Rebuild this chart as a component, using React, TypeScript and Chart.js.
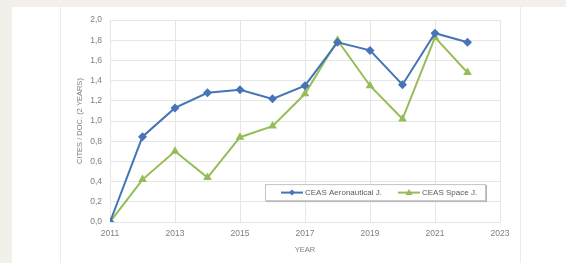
import React, { useEffect, useRef } from "react";
import { Chart, registerables } from "chart.js";

Chart.register(...registerables);

const years = [2011, 2012, 2013, 2014, 2015, 2016, 2017, 2018, 2019, 2020, 2021, 2022];
const aeronautical = [0.0, 0.845, 1.13, 1.28, 1.31, 1.22, 1.35, 1.78, 1.7, 1.36, 1.87, 1.78];
const space = [0.0, 0.42, 0.7, 0.44, 0.84, 0.95, 1.27, 1.8, 1.35, 1.02, 1.83, 1.48];
const seriesNames = ["CEAS Aeronautical J.", "CEAS Space J."];
const xTitle = "YEAR";
const yTitle = "CITES / DOC. (2 YEARS)";

const BLUE = "#4674b6";
const GREEN = "#95bd57";
const FONT = "'Liberation Sans', Arial, sans-serif";

const legendPlugin = {
  id: "insideLegend",
  afterDraw(chart: any) {
    const { ctx, chartArea } = chart;
    const bx = chartArea.left + 155;
    const by = chartArea.top + 164;
    const bw = 221;
    const bh = 17;
    ctx.save();
    ctx.fillStyle = "#b4b4b4";
    ctx.fillRect(bx + 1, by + 1, bw, bh);
    ctx.fillStyle = "#ffffff";
    ctx.fillRect(bx, by, bw, bh);
    ctx.strokeStyle = "#c4c4c4";
    ctx.lineWidth = 1;
    ctx.strokeRect(bx + 0.5, by + 0.5, bw - 1, bh - 1);
    const cy = by + bh / 2;
    const items = [
      { x: bx + 16, ds: chart.data.datasets[0] },
      { x: bx + 133, ds: chart.data.datasets[1] },
    ];
    ctx.font = "8px " + FONT;
    ctx.textBaseline = "middle";
    ctx.textAlign = "left";
    for (const it of items) {
      const ds = it.ds;
      ctx.strokeStyle = ds.borderColor;
      ctx.lineWidth = 2;
      ctx.beginPath();
      ctx.moveTo(it.x, cy);
      ctx.lineTo(it.x + 22, cy);
      ctx.stroke();
      ctx.fillStyle = ds.borderColor;
      const mx = it.x + 11;
      ctx.beginPath();
      if (ds.pointStyle === "rectRot") {
        const r = 3;
        ctx.moveTo(mx, cy - r);
        ctx.lineTo(mx + r, cy);
        ctx.lineTo(mx, cy + r);
        ctx.lineTo(mx - r, cy);
      } else {
        const r = 3.5;
        ctx.moveTo(mx, cy - r);
        ctx.lineTo(mx + r, cy + r * 0.7);
        ctx.lineTo(mx - r, cy + r * 0.7);
      }
      ctx.closePath();
      ctx.fill();
      ctx.fillStyle = "#595959";
      ctx.fillText(ds.label, it.x + 24, cy);
    }
    ctx.restore();
  },
};

export default function App() {
  const ref = useRef<HTMLCanvasElement>(null);

  useEffect(() => {
    if (!ref.current) return;
    const chart = new Chart(ref.current, {
      type: "line",
      data: {
        datasets: [
          {
            label: seriesNames[0],
            data: years.map((y, i) => ({ x: y, y: aeronautical[i] })),
            borderColor: BLUE,
            backgroundColor: BLUE,
            borderWidth: 2,
            pointStyle: "rectRot",
            pointRadius: 4.5,
            pointBorderWidth: 0,
            tension: 0,
          },
          {
            label: seriesNames[1],
            data: years.map((y, i) => ({ x: y, y: space[i] })),
            borderColor: GREEN,
            backgroundColor: GREEN,
            borderWidth: 2,
            pointStyle: "triangle",
            pointRadius: 5,
            pointBorderWidth: 0,
            tension: 0,
          },
        ],
      },
      options: {
        animation: false,
        responsive: false,
        devicePixelRatio: 1,
        layout: { padding: { left: 0, top: 13, right: 21, bottom: 0 } },
        plugins: {
          legend: { display: false },
          tooltip: { enabled: false },
        },
        scales: {
          x: {
            type: "linear",
            min: 2011,
            max: 2023,
            grid: { color: "#e6e6e6", drawTicks: false, lineWidth: 1 },
            border: { display: true, color: "#e6e6e6" },
            ticks: {
              stepSize: 2,
              padding: 7,
              color: "#7f7f7f",
              font: { family: FONT, size: 8.5 },
              callback: (v: any) => String(v),
              maxRotation: 0,
            },
            title: {
              display: true,
              text: xTitle,
              color: "#7f7f7f",
              font: { family: FONT, size: 7.5 },
              padding: { top: 0, bottom: 9 },
            },
            afterFit: (s: any) => {
              s.height = 41;
            },
          },
          y: {
            min: 0,
            max: 2,
            grid: { color: "#e6e6e6", drawTicks: false, lineWidth: 1 },
            border: { display: true, color: "#e6e6e6" },
            ticks: {
              stepSize: 0.2,
              padding: 8,
              color: "#7f7f7f",
              font: { family: FONT, size: 8.5 },
              callback: (v: any) => Number(v).toFixed(1).replace(".", ","),
            },
            title: {
              display: true,
              text: yTitle,
              color: "#7f7f7f",
              font: { family: FONT, size: 7.5 },
              padding: { top: 15, bottom: 0 },
            },
            afterFit: (s: any) => {
              s.width = 50;
            },
          },
        },
      },
      plugins: [legendPlugin],
    } as any);
    return () => chart.destroy();
  }, []);

  return (
    <div
      style={{
        position: "fixed",
        left: 0,
        top: 0,
        width: 566,
        height: 263,
        background: "#f3efeb",
        overflow: "hidden",
      }}
    >
      <div
        style={{
          position: "absolute",
          left: 12,
          top: 7,
          width: 554,
          height: 256,
          background: "#ffffff",
        }}
      />
      <div
        style={{
          position: "absolute",
          left: 60,
          top: 7,
          width: 461,
          height: 256,
          borderLeft: "1px solid #ebebeb",
          borderRight: "1px solid #ebebeb",
          boxSizing: "border-box",
        }}
      />
      <canvas
        ref={ref}
        width={461}
        height={256}
        style={{ position: "absolute", left: 60, top: 7, width: 461, height: 256 }}
      />
    </div>
  );
}
